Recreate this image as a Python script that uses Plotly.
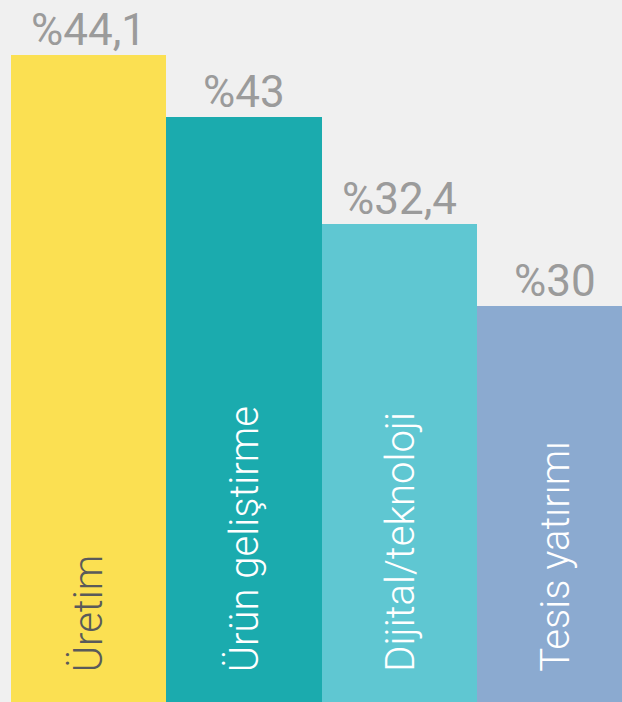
import plotly.graph_objects as go

categories = ["Üretim", "Ürün geliştirme", "Dijital/teknoloji", "Tesis yatırımı"]
values = [44.1, 43, 32.4, 30]              # displayed percentages
value_labels = ["%44,1", "%43", "%32,4", "%30"]
bar_heights = [44.1, 39.9, 32.6, 27.0]     # bar heights as drawn in the picture
bar_colors = ["#FBE052", "#1BABAE", "#5FC7D2", "#8BAAD0"]
label_colors = ["#5A5A5A", "#FFFFFF", "#FFFFFF", "#FFFFFF"]

x = list(range(len(categories)))

fig = go.Figure(go.Bar(
    x=x, y=bar_heights, marker=dict(color=bar_colors, line=dict(width=0)),
    width=1.0, hoverinfo="skip",
))

annotations = []
for i in x:
    annotations.append(dict(
        x=i, y=bar_heights[i], xref="x", yref="y", text=value_labels[i],
        showarrow=False, yanchor="bottom", xanchor="center", yshift=-3,
        font=dict(family="Roboto", size=44, color="#9B9B9B"),
    ))
    annotations.append(dict(
        x=i, y=0, xref="x", yref="y", text=categories[i],
        showarrow=False, yanchor="bottom", xanchor="center", yshift=28,
        textangle=-90,
        font=dict(family="Roboto", size=40, color=label_colors[i], weight=300),
    ))

fig.update_layout(
    width=622, height=702,
    margin=dict(l=11, r=0, t=0, b=0),
    paper_bgcolor="#F0F0F0", plot_bgcolor="#F0F0F0",
    bargap=0, showlegend=False,
    xaxis=dict(range=[-0.5, 3.43], visible=False, fixedrange=True),
    yaxis=dict(range=[0, 47.85], visible=False, fixedrange=True),
    annotations=annotations,
)

fig.write_html(
    "out.html",
    config={"displayModeBar": False},
    post_script="document.body.style.margin='0';document.body.style.background='#F0F0F0';document.body.style.overflow='hidden';",
)
